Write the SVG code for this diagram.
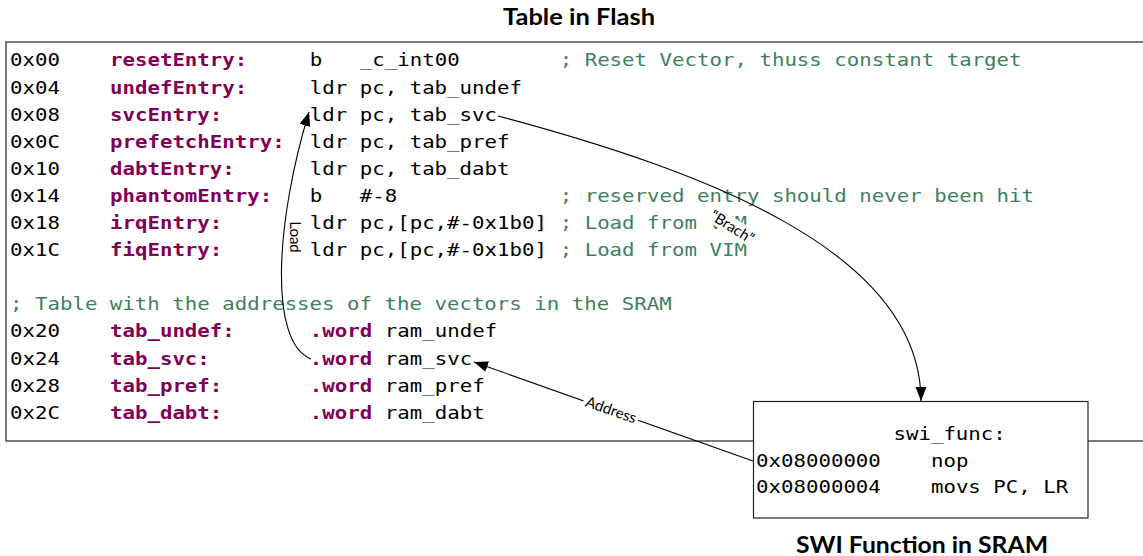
<svg xmlns="http://www.w3.org/2000/svg" width="1143" height="556" viewBox="0 0 1143 556">
  <style>
    .code { font-family: "DejaVu Sans Mono", "Liberation Mono", monospace; font-size: 17px; fill: #000; }
    .k { fill: #7f0055; font-weight: bold; }
    .g { fill: #3f7f5f; }
    .title { font-family: Lato, "Open Sans", "Liberation Sans", sans-serif; font-size: 22px; font-weight: bold; fill: #000; }
    .lbl { font-family: Lato, "Open Sans", "Liberation Sans", sans-serif; font-size: 15px; fill: #000; }
    .box { fill: #fff; stroke: #222; stroke-width: 1.2; }
    .edge { fill: none; stroke: #000; stroke-width: 1.1; }
  </style>
  <defs>
    <marker id="arrow" markerUnits="userSpaceOnUse" markerWidth="16" markerHeight="12" refX="14" refY="5.5" orient="auto">
      <path d="M0,0 L14,5.5 L0,11 z" fill="#000"/>
    </marker>
  </defs>

  <rect width="1143" height="556" fill="#fff"/>

  <!-- vector table stored in flash; columns at 8 / 24 / 28 / 44 characters -->
  <g id="flash-table">
    <rect class="box" x="6" y="42" width="1150" height="399"/>
    <text class="title" x="579" y="25" text-anchor="middle" textLength="152" lengthAdjust="spacingAndGlyphs">Table in Flash</text>
    <g class="code" transform="matrix(1.2207 0 0 1 10 0)">
      <text y="66.5"><tspan x="0">0x00</tspan><tspan x="81.9" class="k">resetEntry:</tspan><tspan x="245.6">b</tspan><tspan x="286.6">_c_int00</tspan><tspan x="450.3" class="g">; Reset Vector, thuss constant target</tspan></text>
      <text y="93.6"><tspan x="0">0x04</tspan><tspan x="81.9" class="k">undefEntry:</tspan><tspan x="245.6">ldr pc, tab_undef</tspan></text>
      <text y="120.7"><tspan x="0">0x08</tspan><tspan x="81.9" class="k">svcEntry:</tspan><tspan x="245.6">ldr pc, tab_svc</tspan></text>
      <text y="147.8"><tspan x="0">0x0C</tspan><tspan x="81.9" class="k">prefetchEntry:</tspan><tspan x="245.6">ldr pc, tab_pref</tspan></text>
      <text y="174.9"><tspan x="0">0x10</tspan><tspan x="81.9" class="k">dabtEntry:</tspan><tspan x="245.6">ldr pc, tab_dabt</tspan></text>
      <text y="202"><tspan x="0">0x14</tspan><tspan x="81.9" class="k">phantomEntry:</tspan><tspan x="245.6">b</tspan><tspan x="286.6">#-8</tspan><tspan x="450.3" class="g">; reserved entry should never been hit</tspan></text>
      <text y="229.1"><tspan x="0">0x18</tspan><tspan x="81.9" class="k">irqEntry:</tspan><tspan x="245.6">ldr pc,[pc,#-0x1b0]</tspan><tspan x="450.3" class="g">; Load from VIM</tspan></text>
      <text y="256.2"><tspan x="0">0x1C</tspan><tspan x="81.9" class="k">fiqEntry:</tspan><tspan x="245.6">ldr pc,[pc,#-0x1b0]</tspan><tspan x="450.3" class="g">; Load from VIM</tspan></text>
      <text y="310.4" x="0" class="g">; Table with the addresses of the vectors in the SRAM</text>
      <text y="337.5"><tspan x="0">0x20</tspan><tspan x="81.9" class="k">tab_undef:</tspan><tspan x="245.6" class="k">.word</tspan><tspan x="307.1">ram_undef</tspan></text>
      <text y="364.6"><tspan x="0">0x24</tspan><tspan x="81.9" class="k">tab_svc:</tspan><tspan x="245.6" class="k">.word</tspan><tspan x="307.1">ram_svc</tspan></text>
      <text y="391.7"><tspan x="0">0x28</tspan><tspan x="81.9" class="k">tab_pref:</tspan><tspan x="245.6" class="k">.word</tspan><tspan x="307.1">ram_pref</tspan></text>
      <text y="418.8"><tspan x="0">0x2C</tspan><tspan x="81.9" class="k">tab_dabt:</tspan><tspan x="245.6" class="k">.word</tspan><tspan x="307.1">ram_dabt</tspan></text>
    </g>
  </g>

  <!-- SWI handler placed in SRAM -->
  <g id="swi-func">
    <rect class="box" x="753.5" y="401.5" width="334.5" height="116.5"/>
    <g class="code" transform="matrix(1.2207 0 0 1 756 0)">
      <text x="112.6" y="440">swi_func:</text>
      <text y="466.7"><tspan x="0">0x08000000</tspan><tspan x="143.3">nop</tspan></text>
      <text y="493.4"><tspan x="0">0x08000004</tspan><tspan x="143.3">movs PC, LR</tspan></text>
    </g>
    <text class="title" x="922" y="553" text-anchor="middle" textLength="252" lengthAdjust="spacingAndGlyphs">SWI Function in SRAM</text>
  </g>

  <!-- connectors -->
  <g id="connectors">
    <path class="edge" d="M498,116 C700,170 921,250 921,401" marker-end="url(#arrow)"/>
    <path class="edge" d="M311,359 C268,342 276,220 309,112" marker-end="url(#arrow)"/>
    <path class="edge" d="M753,461 L474,362" marker-end="url(#arrow)"/>

    <g transform="translate(732 227) rotate(32)">
      <rect x="-27" y="-9" width="54" height="17" fill="#fff"/>
      <text class="lbl" x="0" y="5" text-anchor="middle">“Brach”</text>
    </g>
    <g transform="translate(295 237) rotate(90)">
      <text class="lbl" x="0" y="5" text-anchor="middle">Load</text>
    </g>
    <g transform="translate(611 410) rotate(19.5)">
      <rect x="-29" y="-9" width="58" height="17" fill="#fff"/>
      <text class="lbl" x="0" y="5" text-anchor="middle">Address</text>
    </g>
  </g>
</svg>
